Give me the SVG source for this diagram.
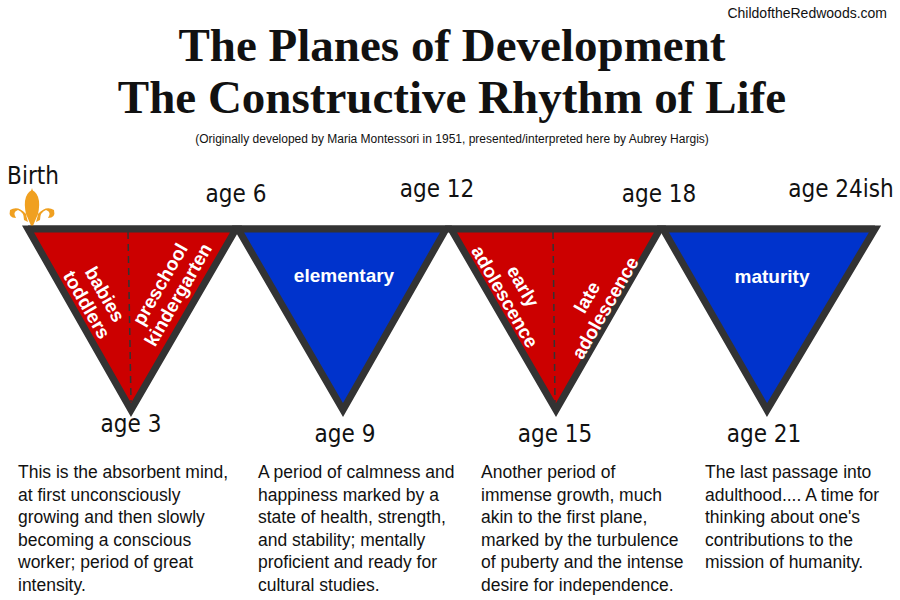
<svg xmlns="http://www.w3.org/2000/svg" width="900" height="600" viewBox="0 0 900 600">
<style>
.t{font-family:"Liberation Serif",serif;font-weight:bold;font-size:47px;fill:#111;text-anchor:middle}
.h{font-family:"DejaVu Sans Condensed","Liberation Sans",sans-serif;font-size:24px;fill:#111;text-anchor:middle}
.w{font-family:"Liberation Sans",Arial,sans-serif;font-weight:bold;font-size:19px;fill:#fff;text-anchor:middle}
.d{font-family:"Liberation Sans",Arial,sans-serif;font-size:17.5px;fill:#111}
.red{fill:#cc0000;stroke:#333;stroke-width:7;stroke-linejoin:miter}
.blue{fill:#0033cc;stroke:#333;stroke-width:7}
.dash{stroke:#333;stroke-width:1.5;stroke-dasharray:7 5}
</style>
<rect width="900" height="600" fill="#fff"/>
<text x="887" y="18" font-family="Liberation Sans,sans-serif" font-size="14" fill="#111" text-anchor="end">ChildoftheRedwoods.com</text>
<text class="t" x="452" y="61">The Planes of Development</text>
<text class="t" x="452" y="113">The Constructive Rhythm of Life</text>
<text x="452" y="143" font-family="Liberation Sans,sans-serif" font-size="12" fill="#111" text-anchor="middle">(Originally developed by Maria Montessori in 1951, presented/interpreted here by Aubrey Hargis)</text>
<g id="connectors">
<line x1="28" y1="229" x2="875" y2="229" stroke="#333" stroke-width="7"/>
</g>
<g id="birth">
<text class="h" x="33" y="184">Birth</text>
<g fill="#f0a020">
<path d="M32 228 L26 214 Q18 205 10 210 Q8 218 16 218 Q12 212 18 210 Q24 212 24 220 L28 222 Q20 196 32 190 Q44 196 36 222 L40 220 Q40 212 46 210 Q52 212 48 218 Q56 218 54 210 Q46 205 38 214 Z"/>
<path d="M32 188 L29 198 L32 204 L35 198 Z"/>
</g>
</g>
<g id="plane1">
<polygon class="red" points="28,229 236,229 131,410"/>
<line class="dash" x1="128" y1="232" x2="131" y2="402"/>
<text class="w" transform="translate(95,300) rotate(60)"><tspan x="0" y="-5">babies</tspan><tspan x="0" y="16">toddlers</tspan></text>
<text class="w" transform="translate(170,290) rotate(-60)"><tspan x="0" y="-5">preschool</tspan><tspan x="0" y="16">kindergarten</tspan></text>
</g>
<g id="plane2">
<polygon class="blue" points="238,229 446,229 343,410"/>
<text class="w" x="344" y="282" font-size="18">elementary</text>
</g>
<g id="plane3">
<polygon class="red" points="451,229 660,229 556,410"/>
<line class="dash" x1="553" y1="232" x2="555" y2="402"/>
<text class="w" transform="translate(513,292) rotate(60)"><tspan x="0" y="-5">early</tspan><tspan x="0" y="16">adolescence</tspan></text>
<text class="w" transform="translate(597,303) rotate(-60)"><tspan x="0" y="-5">late</tspan><tspan x="0" y="16">adolescence</tspan></text>
</g>
<g id="plane4">
<polygon class="blue" points="663,229 875,229 767,410"/>
<text class="w" x="772" y="283" font-size="18">maturity</text>
</g>
<g id="ages">
<text class="h" x="236" y="202">age 6</text>
<text class="h" x="437" y="197">age 12</text>
<text class="h" x="659" y="202">age 18</text>
<text class="h" x="841" y="197">age 24ish</text>
<text class="h" x="131" y="432">age 3</text>
<text class="h" x="345" y="442">age 9</text>
<text class="h" x="555" y="442">age 15</text>
<text class="h" x="764" y="442">age 21</text>
</g>
<g id="descriptions">
<text class="d"><tspan x="18" y="478">This is the absorbent mind,</tspan><tspan x="18" y="500.5">at first unconsciously</tspan><tspan x="18" y="523">growing and then slowly</tspan><tspan x="18" y="545.5">becoming a conscious</tspan><tspan x="18" y="568">worker; period of great</tspan><tspan x="18" y="590.5">intensity.</tspan></text>
<text class="d"><tspan x="258" y="478">A period of calmness and</tspan><tspan x="258" y="500.5">happiness marked by a</tspan><tspan x="258" y="523">state of health, strength,</tspan><tspan x="258" y="545.5">and stability; mentally</tspan><tspan x="258" y="568">proficient and ready for</tspan><tspan x="258" y="590.5">cultural studies.</tspan></text>
<text class="d"><tspan x="481" y="478">Another period of</tspan><tspan x="481" y="500.5">immense growth, much</tspan><tspan x="481" y="523">akin to the first plane,</tspan><tspan x="481" y="545.5">marked by the turbulence</tspan><tspan x="481" y="568">of puberty and the intense</tspan><tspan x="481" y="590.5">desire for independence.</tspan></text>
<text class="d"><tspan x="705" y="478">The last passage into</tspan><tspan x="705" y="500.5">adulthood.... A time for</tspan><tspan x="705" y="523">thinking about one's</tspan><tspan x="705" y="545.5">contributions to the</tspan><tspan x="705" y="568">mission of humanity.</tspan></text>
</g>
</svg>
